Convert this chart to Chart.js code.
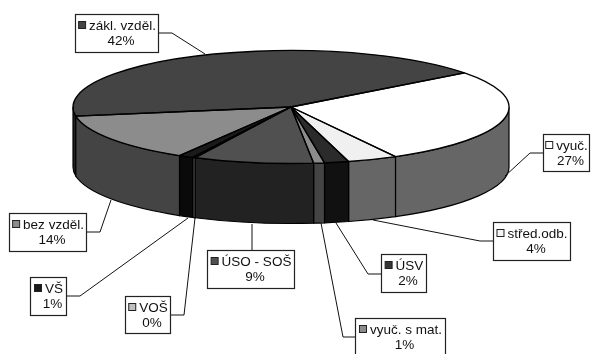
<!DOCTYPE html>
<html>
<head>
<meta charset="utf-8">
<style>
  html, body { margin: 0; padding: 0; background: #fff; overflow: hidden; }
  canvas { display: block; }
</style>
<script src="https://cdn.jsdelivr.net/npm/chart.js@4"></script>
</head>
<body>
<canvas id="pieChart" width="592" height="354"></canvas>
<script>
// --- Data ---
const categories = ['zákl. vzděl.', 'vyuč.', 'střed.odb.', 'ÚSV', 'vyuč. s mat.', 'ÚSO - SOŠ', 'VOŠ', 'VŠ', 'bez vzděl.'];
const shares = [42.2, 27.4, 3.7, 1.8, 0.8, 8.9, 0.2, 1.1, 13.9];
const percentLabels = ['42%', '27%', '4%', '2%', '1%', '9%', '0%', '1%', '14%'];

// --- Styles ---
const topColors = ['#444444', '#ffffff', '#f0f0f0', '#2b2b2b', '#8c8c8c', '#505050', '#c0c0c0', '#1a1a1a', '#8c8c8c'];
const sideColors = ['#222222', '#666666', '#666666', '#111111', '#444444', '#222222', '#555555', '#0a0a0a', '#444444'];
const keyColors = ['#444444', '#ffffff', '#f4f4f4', '#333333', '#8c8c8c', '#505050', '#c0c0c0', '#1a1a1a', '#8c8c8c'];

// disc geometry on the page
const disc = { cx: 291, cy: 107, rx: 218, ry: 56.5, depth: 60 };
const FONT = '13.5px "Liberation Sans", Arial, sans-serif';

// label boxes: [left, top, right, bottom], then the leader line
const boxes = [
  [75, 14, 159, 53],
  [543, 134, 590, 172],
  [493, 222, 571, 261],
  [381, 254, 427, 293],
  [355, 318, 446, 358],
  [207, 250, 295, 289],
  [125, 296, 171, 334],
  [30, 277, 67, 316],
  [9, 213, 87, 252]
];
const leaders = [
  [[159, 33], [172, 33], [205, 54]],
  [[543, 153], [530, 153], [505, 176]],
  [[493, 241], [480, 241], [373, 220]],
  [[381, 274], [368, 274], [336, 223]],
  [[355, 337], [343, 337], [321, 223]],
  [[252, 250], [252, 224]],
  [[171, 315], [184, 315], [195, 218]],
  [[67, 296], [80, 296], [188, 218]],
  [[87, 232], [100, 232], [111, 200]]
];

// Parts of a slice that face the viewer (lower half of the rim)
function visibleRim(start, end) {
  const parts = [];
  [0, 2 * Math.PI].forEach((base) => {
    const a = Math.max(start, base);
    const b = Math.min(end, base + Math.PI);
    if (b > a) parts.push([a, b]);
  });
  return parts;
}

// Extruded wall under the disc, drawn before the pie itself
function drawWalls(ctx, arcs) {
  const { cx, cy, rx, ry, depth } = disc;
  ctx.save();
  ctx.lineWidth = 1.2;
  ctx.strokeStyle = '#000';
  arcs.forEach((arc, i) => {
    visibleRim(arc.startAngle, arc.endAngle).forEach(([a, b]) => {
      ctx.beginPath();
      ctx.ellipse(cx, cy, rx, ry, 0, a, b);
      ctx.ellipse(cx, cy + depth, rx, ry, 0, b, a, true);
      ctx.closePath();
      ctx.fillStyle = sideColors[i];
      ctx.fill();
      ctx.stroke();
    });
  });
  ctx.restore();
}

function drawOutlines(ctx, arcs) {
  const { cx, cy, rx, ry } = disc;
  ctx.save();
  ctx.lineWidth = 1.3;
  ctx.strokeStyle = '#000';
  ctx.lineJoin = 'bevel';
  arcs.forEach((arc) => {
    ctx.beginPath();
    ctx.moveTo(cx, cy);
    ctx.ellipse(cx, cy, rx, ry, 0, arc.startAngle, arc.endAngle);
    ctx.closePath();
    ctx.stroke();
  });
  ctx.restore();
}

function drawLabels(ctx) {
  ctx.save();
  ctx.font = FONT;
  ctx.textBaseline = 'alphabetic';
  categories.forEach((name, i) => {
    const [l, t, r, b] = boxes[i];

    // leader line
    ctx.strokeStyle = '#111';
    ctx.lineWidth = 1;
    ctx.beginPath();
    leaders[i].forEach(([x, y], k) => (k ? ctx.lineTo(x, y) : ctx.moveTo(x, y)));
    ctx.stroke();

    // box
    ctx.fillStyle = '#fff';
    ctx.fillRect(l, t, r - l, b - t);
    ctx.lineWidth = 1.2;
    ctx.strokeStyle = '#222';
    ctx.strokeRect(l + 0.5, t + 0.5, r - l - 1, b - t - 1);

    // legend key + text, centred in the box
    const nameWidth = ctx.measureText(name).width;
    const lineWidth = 8 + 3 + nameWidth;
    const x0 = (l + r) / 2 - lineWidth / 2;
    ctx.lineWidth = 1;
    ctx.fillStyle = keyColors[i];
    ctx.fillRect(x0 + 0.5, t + 7.5, 7, 7);
    ctx.strokeRect(x0 + 0.5, t + 7.5, 7, 7);
    ctx.fillStyle = '#111';
    ctx.fillText(name, x0 + 11, t + 15.5);
    const pct = percentLabels[i];
    ctx.fillText(pct, (l + r) / 2 - ctx.measureText(pct).width / 2 + 4, t + 31);
  });
  ctx.restore();
}

// Squashes the chart's round pie into the tilted disc and adds the 3D parts
const tiltedPie = {
  id: 'tiltedPie',
  beforeDatasetsDraw(chart) {
    const ctx = chart.ctx;
    const arcs = chart.getDatasetMeta(0).data;
    drawWalls(ctx, arcs);
    const first = arcs[0];
    const r = first.outerRadius;
    ctx.save();
    ctx.translate(disc.cx, disc.cy);
    ctx.scale(disc.rx / r, disc.ry / r);
    ctx.translate(-first.x, -first.y);
  },
  afterDatasetsDraw(chart) {
    const ctx = chart.ctx;
    ctx.restore();
    drawOutlines(ctx, chart.getDatasetMeta(0).data);
    drawLabels(ctx);
  }
};

new Chart(document.getElementById('pieChart'), {
  type: 'pie',
  data: {
    labels: categories,
    datasets: [{
      data: shares,
      backgroundColor: topColors,
      borderWidth: 0
    }]
  },
  options: {
    responsive: false,
    animation: false,
    rotation: 260.8,
    layout: { padding: 0 },
    plugins: {
      legend: { display: false },
      tooltip: { enabled: false }
    }
  },
  plugins: [tiltedPie]
});
</script>
</body>
</html>
